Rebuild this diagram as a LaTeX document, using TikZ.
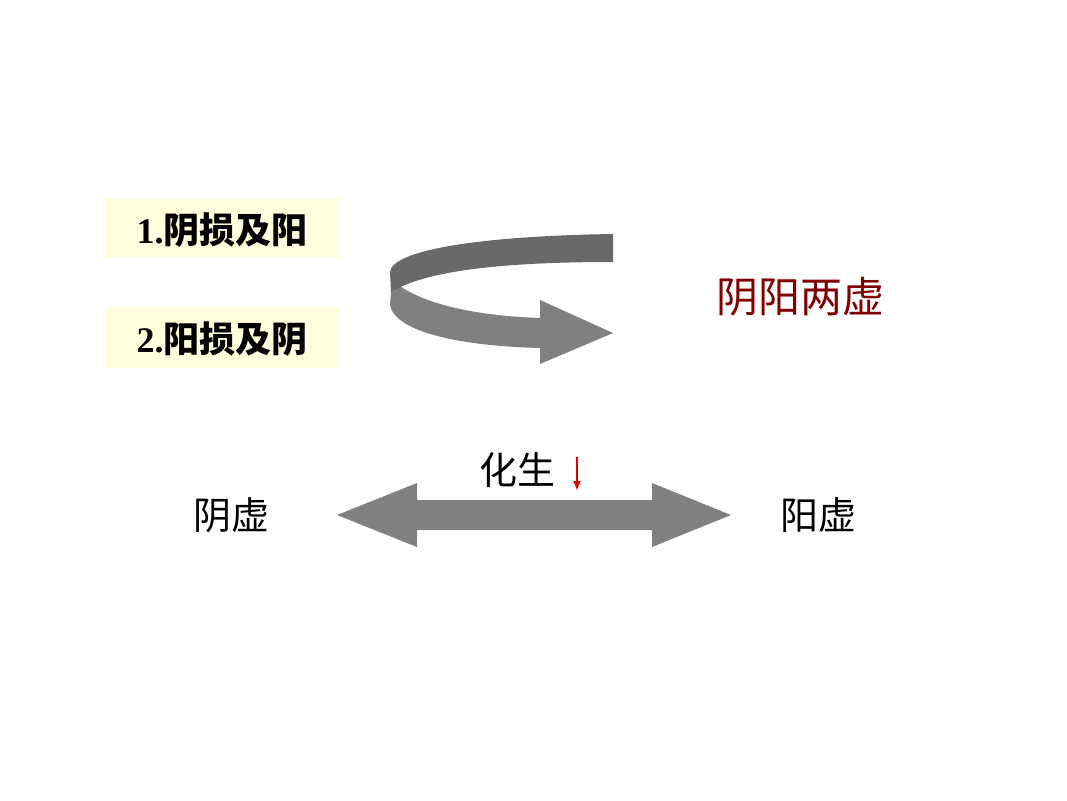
\documentclass[tikz,border=0pt]{standalone}
\usetikzlibrary{arrows.meta}
\usepackage{fontspec}
\setmainfont{Liberation Serif}
\newfontfamily\cjk{Noto Sans CJK SC}
\definecolor{boxy}{RGB}{255,255,221}
\definecolor{dred}{RGB}{128,0,0}
\definecolor{gdark}{RGB}{105,105,105}
\definecolor{glight}{RGB}{128,128,128}
\begin{document}
\begin{tikzpicture}[x=1pt,y=-1pt,
  lbl/.style={inner sep=0pt,font=\fontsize{36}{38}\selectfont\bfseries},
  txt/.style={inner sep=0pt,font=\cjk\fontsize{38}{40}\selectfont}]
\useasboundingbox (0,0) rectangle (1067,800);
\fill[boxy] (105,198) rectangle (340,258);
\fill[boxy] (105,307) rectangle (340,368);
\node[lbl] (a) at (222,230) {1.{\cjk 阴损及阳}};
\node[lbl] (b) at (222,339) {2.{\cjk 阳损及阴}};
% curved arrow
\fill[glight] (392,280) .. controls (420,305) and (480,316) .. (540,318) -- (540,300) -- (613,333) -- (540,364) -- (540,348) .. controls (460,346) and (395,332) .. (390,305) -- cycle;
\fill[gdark] (613,234) .. controls (480,236) and (392,250) .. (390,272) -- (391,292) .. controls (430,268) and (520,262) .. (613,262) -- cycle;
\node[txt,text=dred,font=\cjk\fontsize{42}{44}\selectfont] (c) at (800,297) {阴阳两虚};
% double arrow
\fill[glight] (337,515) -- (417,483) -- (417,500) -- (652,500) -- (652,483) -- (731,515) -- (652,547) -- (652,530) -- (417,530) -- (417,547) -- cycle;
\node[txt] (yin) at (231,515) {阴虚};
\node[txt] (yang) at (818,515) {阳虚};
\node[txt] (hs) at (517,470) {化生};
\coordinate (r1) at (577,457);
\coordinate (r2) at (577,491);
\draw[red!85!black,line width=2.2pt,-{Latex[length=10pt,width=8pt]}] (r1) -- (r2);
\end{tikzpicture}
\end{document}
